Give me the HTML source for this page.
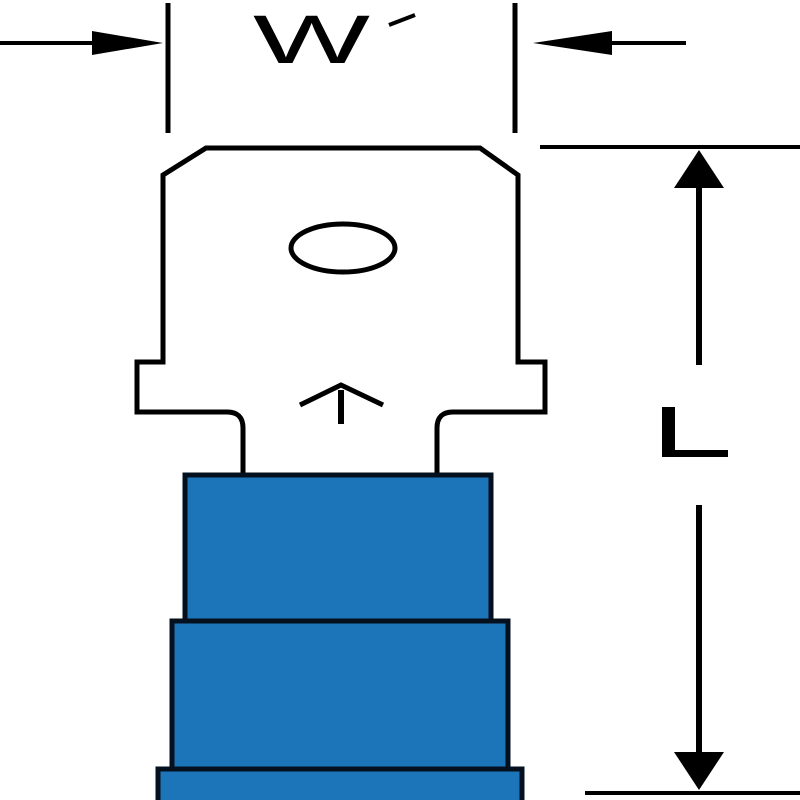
<!DOCTYPE html>
<html><head><style>html,body{margin:0;padding:0;background:#fff}svg{display:block}</style></head>
<body>
<svg width="800" height="800" viewBox="0 0 800 800" xmlns="http://www.w3.org/2000/svg">
<!-- W' dimension -->
<line x1="0" y1="43" x2="100" y2="43" stroke="#000" stroke-width="4"/>
<polygon points="92,31 163,43 92,55" fill="#000"/>
<line x1="168" y1="3" x2="168" y2="133" stroke="#000" stroke-width="5"/>
<line x1="515" y1="3" x2="515" y2="133" stroke="#000" stroke-width="5"/>
<polygon points="612,31 533,43 612,55" fill="#000"/>
<line x1="605" y1="43" x2="686" y2="43" stroke="#000" stroke-width="4"/>
<text x="253" y="63" font-family="Liberation Sans, sans-serif" font-size="69" fill="#000" textLength="117" lengthAdjust="spacingAndGlyphs">W</text>
<line x1="415" y1="15" x2="389" y2="25" stroke="#000" stroke-width="4"/>
<!-- L dimension -->
<line x1="540" y1="147" x2="800" y2="147" stroke="#000" stroke-width="4"/>
<line x1="585" y1="793" x2="800" y2="793" stroke="#000" stroke-width="4"/>
<polygon points="699,150 674,188 724,188" fill="#000"/>
<line x1="699" y1="180" x2="699" y2="365" stroke="#000" stroke-width="6"/>
<line x1="699" y1="505" x2="699" y2="760" stroke="#000" stroke-width="6"/>
<polygon points="699,790 674,752 724,752" fill="#000"/>
<text x="662" y="457" font-family="Liberation Sans, sans-serif" font-size="1" fill="#fff">L</text>
<rect x="662" y="407" width="13" height="50" fill="#000"/>
<rect x="662" y="450" width="66" height="7" fill="#000"/>
<!-- tab -->
<path d="M243,476 L243,428 Q243,412 227,412 L137,412 L137,362 L163,362 L163,175 L206,148 L480,148 L518,175 L518,362 L545,362 L545,412 L453,412 Q437,412 437,428 L437,476" fill="#fff" stroke="#000" stroke-width="5"/>
<ellipse cx="343" cy="248" rx="52" ry="24" fill="none" stroke="#000" stroke-width="5"/>
<line x1="341" y1="390" x2="341" y2="424" stroke="#000" stroke-width="6"/>
<polyline points="300,405 341,385 383,405" fill="none" stroke="#000" stroke-width="5"/>
<!-- blue insulation -->
<rect x="185" y="475" width="306" height="146" fill="#1c74b9" stroke="#05101f" stroke-width="5"/>
<rect x="172" y="621" width="336" height="148" fill="#1c74b9" stroke="#05101f" stroke-width="5"/>
<rect x="158" y="769" width="364" height="40" fill="#1c74b9" stroke="#05101f" stroke-width="5"/>
</svg>
</body></html>
